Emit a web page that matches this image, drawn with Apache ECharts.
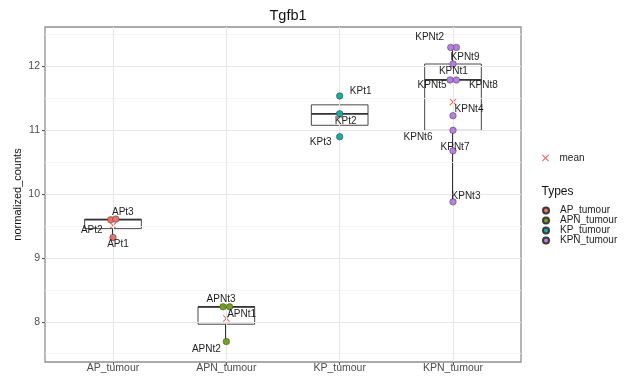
<!DOCTYPE html>
<html>
<head>
<meta charset="utf-8">
<script src="https://cdn.jsdelivr.net/npm/echarts@6/dist/echarts.min.js"></script>
<style>html,body{margin:0;padding:0;background:#fff}#c{width:627px;height:377px}</style>
</head>
<body>
<div id="c"></div>
<script>
// ---- data ----
const categories = ['AP_tumour', 'APN_tumour', 'KP_tumour', 'KPN_tumour'];
const yTicks = [8, 9, 10, 11, 12];
const apNames = ['APt1', 'APt2', 'APt3'];
const apValues = [9.32, 9.60, 9.61];
const apJitter = [0, -0.02, 0.025];
const apnNames = ['APNt1', 'APNt2', 'APNt3'];
const apnValues = [8.235, 7.69, 8.235];
const apnJitter = [0.029, 0, -0.029];
const kpNames = ['KPt1', 'KPt2', 'KPt3'];
const kpValues = [11.54, 11.26, 10.90];
const kpJitter = [0, 0, 0];
const kpnNames = ['KPNt1', 'KPNt2', 'KPNt3', 'KPNt4', 'KPNt5', 'KPNt6', 'KPNt7', 'KPNt8', 'KPNt9'];
const kpnValues = [12.30, 12.30, 9.88, 11.23, 11.79, 11.00, 10.68, 11.79, 12.04];
const kpnJitter = [0.03, -0.02, 0, 0, -0.026, 0, 0, 0.03, 0];

// ---- styling (label placement, colours) ----
const labelOffsets = {
  APt1: [5, 7], APt2: [-19, 11], APt3: [7, -7],
  APNt1: [12, 7], APNt2: [-20, 8], APNt3: [-2, -8],
  KPt1: [21, -5], KPt2: [6, 7], KPt3: [-19, 5],
  KPNt1: [-3, 24], KPNt2: [-21, -10], KPNt3: [13, -6], KPNt4: [16, -6],
  KPNt5: [-18, 5], KPNt6: [-35, 7], KPNt7: [2, -4], KPNt8: [27, 5], KPNt9: [12, -7]
};
const colors = ['#F07068', '#73A21A', '#11ADA8', '#B77EE6'];
const FONT = 'Liberation Sans, Arial, sans-serif';

const groups = [
  { names: apNames, values: apValues, jitter: apJitter },
  { names: apnNames, values: apnValues, jitter: apnJitter },
  { names: kpNames, values: kpValues, jitter: kpJitter },
  { names: kpnNames, values: kpnValues, jitter: kpnJitter }
];

function quantile(sorted, p) {
  const h = (sorted.length - 1) * p, lo = Math.floor(h);
  const hi = Math.min(lo + 1, sorted.length - 1);
  return sorted[lo] + (h - lo) * (sorted[hi] - sorted[lo]);
}
const boxData = groups.map((g, i) => {
  const s = g.values.slice().sort((a, b) => a - b);
  const q1 = quantile(s, 0.25), med = quantile(s, 0.5), q3 = quantile(s, 0.75);
  const iqr = q3 - q1;
  const lo = Math.min(...s.filter(v => v >= q1 - 1.5 * iqr));
  const hi = Math.max(...s.filter(v => v <= q3 + 1.5 * iqr));
  return [i + 1, lo, q1, med, q3, hi];
});
const meanData = groups.map((g, i) => [i + 1, g.values.reduce((a, b) => a + b, 0) / g.values.length]);

const crossPath = 'path://M0,1L1,0L5,4L9,0L10,1L6,5L10,9L9,10L5,6L1,10L0,9L4,5Z';

const pointSeries = groups.map((g, gi) => ({
  name: categories[gi],
  type: 'scatter',
  z: 5,
  symbol: 'circle',
  symbolSize: 6.5,
  itemStyle: { color: colors[gi], borderColor: '#3a3a3a', borderWidth: 0.5, opacity: 1 },
  data: g.values.map((v, k) => ({
    name: g.names[k],
    value: [gi + 1 + g.jitter[k], v],
    label: {
      show: true, position: 'inside', formatter: g.names[k],
      offset: labelOffsets[g.names[k]] || [0, -8],
      color: '#1e1e1e', fontSize: 10, fontFamily: FONT,
      align: 'center', verticalAlign: 'middle'
    }
  }))
}));

const minorY = [7.5, 8.5, 9.5, 10.5, 11.5, 12.5];

const option = {
  animation: false,
  backgroundColor: '#fff',
  title: {
    text: 'Tgfb1', left: 283, top: 3, textAlign: 'center',
    textStyle: { fontFamily: FONT, fontSize: 14.5, fontWeight: 'normal', color: '#111' }
  },
  grid: { left: 45, right: 106, top: 27, bottom: 15, show: true, borderColor: '#8f8f8f', borderWidth: 1.3, backgroundColor: 'transparent' },
  xAxis: {
    type: 'value', min: 0.4, max: 4.6,
    axisLine: { show: false },
    splitLine: { show: false },
    axisTick: { show: true, customValues: [1, 2, 3, 4], length: 3, lineStyle: { color: '#555' } },
    axisLabel: {
      customValues: [1, 2, 3, 4], formatter: v => categories[Math.round(v) - 1] || '',
      color: '#4d4d4d', fontSize: 10.5, fontFamily: FONT, margin: 1
    }
  },
  yAxis: {
    type: 'value', min: 7.37, max: 12.62,
    name: 'normalized_counts', nameLocation: 'middle', nameRotate: 90, nameGap: 22,
    nameMoveOverlap: false,
    nameTextStyle: { color: '#111', fontSize: 11, fontFamily: FONT },
    axisLine: { show: false },
    splitLine: { show: false },
    axisTick: { show: true, customValues: yTicks, length: 3, lineStyle: { color: '#555' } },
    axisLabel: { customValues: yTicks, color: '#4d4d4d', fontSize: 10.5, fontFamily: FONT, margin: 5 }
  },
  legend: [
    {
      data: ['mean'], orient: 'vertical', left: 537, top: 147,
      itemWidth: 18, itemHeight: 7, itemGap: 0,
      textStyle: { fontFamily: FONT, fontSize: 10, color: '#1e1e1e', lineHeight: 12 }
    },
    {
      data: categories, orient: 'vertical', left: 537, top: 200.5,
      itemWidth: 18, itemHeight: 6, itemGap: 0, icon: 'circle',
      textStyle: { fontFamily: FONT, fontSize: 10, color: '#1e1e1e', lineHeight: 10 }
    }
  ],
  graphic: [{
    type: 'text', left: 541.5, top: 186,
    style: { text: 'Types', fontFamily: FONT, fontSize: 12, fill: '#111' }
  }],
  series: [
    {
      name: 'grid', type: 'scatter', data: [], z: 0, silent: true,
      markLine: {
        silent: true, symbol: 'none', animation: false, label: { show: false },
        data: [
          ...minorY.map(v => ({ yAxis: v, lineStyle: { color: '#f3f3f3', width: 0.8, type: 'solid' } })),
          ...yTicks.map(v => ({ yAxis: v, lineStyle: { color: '#e6e6e6', width: 1, type: 'solid' } })),
          ...[1, 2, 3, 4].map(v => ({ xAxis: v, lineStyle: { color: '#e6e6e6', width: 1, type: 'solid' } }))
        ]
      }
    },
    {
      name: 'box', type: 'custom', z: 2,
      data: boxData,
      renderItem: function (params, api) {
        const x = api.value(0), lo = api.value(1), q1 = api.value(2), med = api.value(3), q3 = api.value(4), hi = api.value(5);
        const cx = Math.round(api.coord([x, med])[0]) - 0.5;
        const yLo = api.coord([x, lo])[1], yHi = api.coord([x, hi])[1];
        const yQ1 = api.coord([x, q1])[1], yQ3 = api.coord([x, q3])[1];
        const left = api.coord([x - 0.25, med])[0], right = api.coord([x + 0.25, med])[0];
        const yMed = api.coord([x, med])[1];
        const stroke = { stroke: '#333', lineWidth: 1, fill: null };
        return {
          type: 'group',
          children: [
            { type: 'line', shape: { x1: cx, y1: yQ3, x2: cx, y2: yHi }, style: stroke },
            { type: 'line', shape: { x1: cx, y1: yQ1, x2: cx, y2: yLo }, style: stroke },
            { type: 'rect', shape: { x: left, y: yQ3, width: right - left, height: yQ1 - yQ3 }, style: { stroke: '#333', lineWidth: 0.9, fill: '#fff' } },
            { type: 'line', shape: { x1: left, y1: yMed, x2: right, y2: yMed }, style: { stroke: '#333', lineWidth: 1.8 } }
          ]
        };
      }
    },
    {
      name: 'mean', type: 'scatter', z: 4,
      symbol: crossPath, symbolSize: 7,
      itemStyle: { color: '#E8382F' },
      data: meanData
    },
    ...pointSeries
  ]
};

const chart = echarts.init(document.getElementById('c'), null, { renderer: 'canvas' });
chart.setOption(option);
</script>
</body>
</html>
